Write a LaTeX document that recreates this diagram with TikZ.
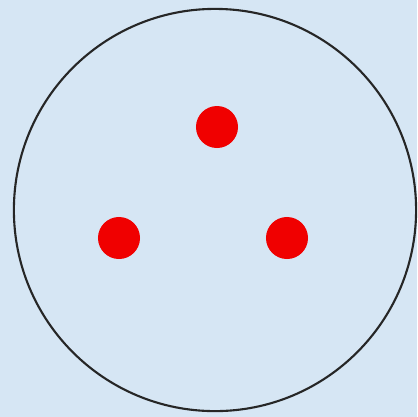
\documentclass[tikz,border=0pt]{standalone}
\usepackage{tikz}
\definecolor{paleblue}{RGB}{214,230,244}
\definecolor{dotred}{RGB}{240,0,0}
\tikzset{
  charge/.style={circle,fill=dotred,inner sep=0pt,minimum size=0.42cm},
  sphere/.style={circle,draw=black!85,line width=0.6pt,inner sep=0pt,minimum size=4.02cm}
}
\begin{document}
\begin{tikzpicture}[x=0.01cm,y=-0.01cm]
				\fill[paleblue] (0,0) rectangle (417,417); % background window
				\useasboundingbox (0,0) rectangle (417,417);
				% the enclosing circle
				\node[sphere] (ball) at (215,210) {};
				% three charges inside
				\node[charge] (top) at (217,127) {};
				\node[charge] (left) at (119,238) {};
				\node[charge] (right) at (287,238) {};
			\end{tikzpicture}
\end{document}
